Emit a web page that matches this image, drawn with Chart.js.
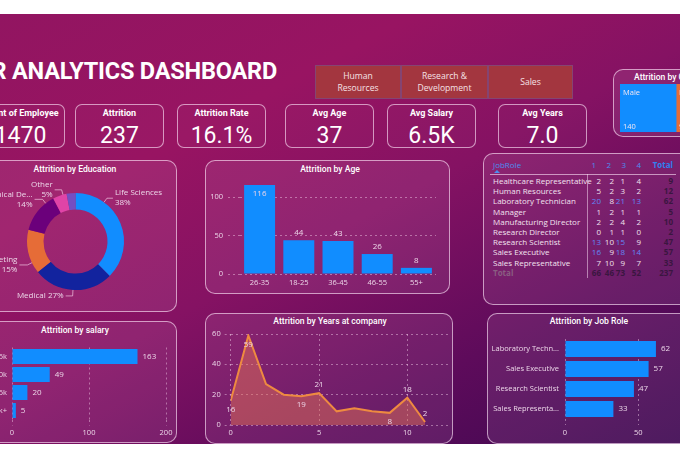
<!DOCTYPE html>
<html><head><meta charset="utf-8">
<script src="https://cdn.jsdelivr.net/npm/chart.js@4.4.1/dist/chart.umd.min.js"></script>
<style>
*{box-sizing:border-box}
html,body{margin:0;padding:0;width:680px;height:459px;overflow:hidden;background:#fff}
body{position:relative;font-family:"Open Sans",sans-serif}
#bg{position:absolute;left:0;top:14px;width:680px;height:430px;background:linear-gradient(152deg,#921561 0%,#981462 28%,#851263 50%,#5e0b5b 75%,#3c0850 100%)}
.panel{position:absolute;border:1px solid rgba(255,232,250,0.62);border-radius:10px;background:rgba(255,220,250,0.09)}
.card{position:absolute;border:1px solid rgba(255,232,250,0.62);border-radius:7px;background:rgba(255,255,255,0.02)}
.t{position:absolute;white-space:nowrap}
.ptitle{position:absolute;white-space:nowrap;color:#fff;font-family:Roboto,sans-serif;font-weight:500;font-size:8.6px;line-height:12px;transform:translate(-50%,-50%)}
canvas{position:absolute}
</style></head><body>
<div id="bg"></div>
<script>
// ---------------- data ----------------
const dashTitle = 'HR ANALYTICS DASHBOARD';
const kpiLabels = ['Count of Employee', 'Attrition', 'Attrition Rate', 'Avg Age', 'Avg Salary', 'Avg Years'];
const kpiValues = ['1470', '237', '16.1%', '37', '6.5K', '7.0'];
const departments = ['Human Resources', 'Research & Development', 'Sales'];
const genderLabels = ['Male', 'Female'];
const genderValues = [140, 97];
const eduLabels = ['Life Sciences', 'Medical', 'Marketing', 'Technical Degree', 'Other', 'Human Resources'];
const eduValues = [89, 63, 35, 32, 11, 7];
const ageGroups = ['26-35', '18-25', '36-45', '46-55', '55+'];
const ageValues = [116, 44, 43, 26, 8];
const salaryBands = ['Up to 5k', '5k-10k', '10k-15k', '15k+'];
const salaryValues = [163, 49, 20, 5];
const yearsAtCompany = [0, 1, 2, 3, 4, 5, 6, 7, 8, 9, 10, 11];
const yearsAttrition = [16, 59, 27, 20, 19, 21, 9, 11, 9, 8, 18, 2];
const topRoles = ['Laboratory Technician', 'Sales Executive', 'Research Scientist', 'Sales Representative'];
const topRoleValues = [62, 57, 47, 33];
const matrixRoles = ['Healthcare Representative', 'Human Resources', 'Laboratory Technician', 'Manager', 'Manufacturing Director', 'Research Director', 'Research Scientist', 'Sales Executive', 'Sales Representative'];
const jobLevels = ['1', '2', '3', '4'];
const level1 = [2, 5, 20, 1, 2, 0, 13, 16, 7];
const level2 = [2, 2, 8, 2, 2, 1, 10, 9, 10];
const level3 = [1, 3, 21, 1, 4, 1, 15, 18, 9];
const level4 = [4, 2, 13, 1, 2, 0, 9, 14, 7];

// ---------------- helpers ----------------
function mk(tag, css, text, cls) {
  const e = document.createElement(tag);
  if (cls) e.className = cls;
  e.style.cssText = css;
  if (text != null) e.textContent = text;
  document.body.appendChild(e);
  return e;
}
function cv(l, t, w, h) {
  const c = document.createElement('canvas');
  c.width = w; c.height = h;
  c.style.cssText = `left:${l}px;top:${t}px;width:${w}px;height:${h}px`;
  document.body.appendChild(c);
  return c;
}
function panel(l, t, w, h) { mk('div', `left:${l}px;top:${t}px;width:${w}px;height:${h}px`, null, 'panel'); }
function ptitle(x, y, s) { mk('div', `left:${x}px;top:${y}px`, s, 'ptitle'); }

const txtCol = '#ecd6e8';
const gridCol = 'rgba(255,225,245,0.42)';
Chart.defaults.font.family = '"Open Sans", sans-serif';
Chart.defaults.font.size = 7.5;
Chart.defaults.color = txtCol;
Chart.defaults.animation = false;
Chart.defaults.responsive = false;
Chart.defaults.devicePixelRatio = 1;
Chart.defaults.plugins.legend.display = false;
Chart.defaults.plugins.tooltip.enabled = false;

// ---------------- header ----------------
mk('div', `right:403px;top:59px;color:#fff;font-family:Roboto,sans-serif;font-weight:700;font-size:23.5px;line-height:24px;letter-spacing:-0.2px`, dashTitle, 't');

const slX = [315, 401, 488], slW = [86, 87, 85];
departments.forEach((d, i) => {
  const e = mk('div', `position:absolute;left:${slX[i]}px;top:65px;width:${slW[i]}px;height:34px;background:#a3363f;border:1px solid rgba(130,70,120,0.9);display:flex;align-items:center;justify-content:center;text-align:center;padding:0 13px;color:#f6e2e6;font-size:8.6px;line-height:12.5px`, d);
});

const cardX = [-24, 75, 177, 285, 387, 498], cardW = 89;
kpiLabels.forEach((lab, i) => {
  mk('div', `left:${cardX[i]}px;top:104px;width:${cardW}px;height:44px`, null, 'card');
  mk('div', `left:${cardX[i]}px;top:107px;width:${cardW}px;height:12px;line-height:12px;text-align:center;color:#fff;font-family:Roboto,sans-serif;font-weight:700;font-size:9px`, lab, 't');
  mk('div', `left:${cardX[i]}px;top:122px;width:${cardW}px;height:28px;line-height:28px;text-align:center;color:#fff;font-family:Roboto,sans-serif;font-weight:400;font-size:23px`, kpiValues[i], 't');
});

// ---------------- gender (treemap-like stacked bar) ----------------
panel(613, 69, 120, 68);
mk('div', `left:634px;top:71px;line-height:12px;color:#fff;font-family:Roboto,sans-serif;font-weight:500;font-size:8.6px`, 'Attrition by Gender', 't');
const genderLabelPlugin = {
  id: 'genderLabels',
  afterDatasetsDraw(chart) {
    const ctx = chart.ctx; ctx.save();
    ctx.font = '7.5px "Open Sans"'; ctx.fillStyle = '#f2e6f2'; ctx.textAlign = 'left';
    chart.data.datasets.forEach((ds, di) => {
      const el = chart.getDatasetMeta(di).data[0];
      const left = Math.min(el.x, el.base), top = el.y - el.height / 2, bot = el.y + el.height / 2;
      ctx.textBaseline = 'middle';
      ctx.fillText(ds.label, left + 3, top + 9);
      ctx.fillText(String(ds.data[0]), left + 3, bot - 5);
    });
    ctx.restore();
  }
};
new Chart(cv(613, 69, 120, 68), {
  type: 'bar',
  data: { labels: ['Gender'], datasets: genderLabels.map((g, i) => ({ label: g, data: [genderValues[i]], backgroundColor: i === 0 ? '#118DFF' : '#E66C37', barPercentage: 1, categoryPercentage: 1 })) },
  options: {
    indexAxis: 'y',
    layout: { padding: { left: 7, right: 18, top: 15, bottom: 5 } },
    scales: { x: { stacked: true, display: false, min: 0, max: genderValues[0] + genderValues[1] }, y: { stacked: true, display: false } }
  },
  plugins: [genderLabelPlugin]
});

// ---------------- education donut ----------------
panel(-27, 160, 204, 152);
ptitle(75, 169, 'Attrition by Education');
const donutLabelPlugin = {
  id: 'donutLabels',
  afterDatasetsDraw(chart, args, o) {
    const meta = chart.getDatasetMeta(0);
    const vals = chart.data.datasets[0].data;
    const total = vals.reduce((a, b) => a + b, 0);
    const ctx = chart.ctx; ctx.save();
    ctx.font = '8px "Open Sans"'; ctx.fillStyle = txtCol;
    ctx.strokeStyle = 'rgba(255,225,245,0.75)'; ctx.lineWidth = 0.8;
    o.items.forEach(it => {
      const arc = meta.data[it.i];
      const a = (it.angle - 90) * Math.PI / 180;
      const r = arc.outerRadius;
      const x0 = arc.x + Math.cos(a) * r, y0 = arc.y + Math.sin(a) * r;
      const x1 = arc.x + Math.cos(a) * (r + it.out), y1 = arc.y + Math.sin(a) * (r + it.out);
      const x2 = x1 + it.dx;
      ctx.beginPath(); ctx.moveTo(x0, y0); ctx.lineTo(x1, y1); ctx.lineTo(x2, y1); ctx.stroke();
      let name = chart.data.labels[it.i];
      if (name.length > 14) name = name.slice(0, 12) + '...';
      const pct = Math.round(vals[it.i] / total * 100) + '%';
      const lines = it.single ? [name + ' ' + pct] : [name, pct];
      ctx.textAlign = it.dx > 0 ? 'left' : 'right';
      ctx.textBaseline = 'middle';
      const tx = x2 + (it.dx > 0 ? 2 : -2);
      lines.forEach((s, k) => ctx.fillText(s, tx, y1 + (k - (lines.length - 1) / 2) * 10));
    });
    ctx.restore();
  }
};
new Chart(cv(-27, 160, 204, 152), {
  type: 'doughnut',
  data: { labels: eduLabels, datasets: [{ data: eduValues, backgroundColor: ['#118DFF', '#12239E', '#E66C37', '#6B007B', '#E044A7', '#744EC2'], borderWidth: 0 }] },
  options: {
    cutout: '66%',
    layout: { padding: { left: 54, right: 53, top: 33, bottom: 22 } },
    plugins: { donutLabels: { items: [
      { i: 0, angle: 36, out: 5, dx: 6 },
      { i: 1, angle: 183, out: 6, dx: -7, single: true },
      { i: 2, angle: 244, out: 5, dx: -8 },
      { i: 3, angle: 322, out: 5, dx: -8 },
      { i: 4, angle: 345, out: 5, dx: -7 }
    ] } }
  },
  plugins: [donutLabelPlugin]
});

// ---------------- bar value labels plugin ----------------
const barLabelPlugin = {
  id: 'barLabels',
  afterDatasetsDraw(chart, args, o) {
    const ctx = chart.ctx; ctx.save();
    ctx.font = (o.size || 8) + 'px "Open Sans"'; ctx.fillStyle = txtCol; ctx.textBaseline = 'middle';
    const horiz = chart.options.indexAxis === 'y';
    const data = chart.data.datasets[0].data;
    chart.getDatasetMeta(0).data.forEach((el, i) => {
      const v = String(data[i]);
      if (horiz) { ctx.textAlign = 'left'; ctx.fillText(v, el.x + o.gap, el.y); }
      else {
        ctx.textAlign = 'center';
        const inside = el.y - chart.chartArea.top < 14;
        ctx.fillText(v, el.x, inside ? el.y + 9 : el.y - o.gap);
      }
    });
    ctx.restore();
  }
};
const keepMultiples = step => s => { s.ticks = s.ticks.filter(t => Math.abs(t.value % step) < 1e-6); };

// ---------------- age ----------------
panel(205, 160, 245, 134);
ptitle(330, 169, 'Attrition by Age');
new Chart(cv(205, 160, 245, 134), {
  type: 'bar',
  data: { labels: ageGroups, datasets: [{ data: ageValues, backgroundColor: '#118DFF', barPercentage: 0.79, categoryPercentage: 1 }] },
  options: {
    layout: { padding: { left: 0, right: 14, top: 18, bottom: 0 } },
    scales: {
      x: { grid: { display: false, drawTicks: false }, border: { display: false }, ticks: { padding: 4 }, afterFit: s => { s.height = 20; } },
      y: { min: 0, max: 125, ticks: { stepSize: 50, padding: 5 }, afterBuildTicks: keepMultiples(50),
           grid: { color: gridCol, tickLength: 12, tickBorderDash: [2, 3] }, border: { display: false, dash: [2, 3] },
           afterFit: s => { s.width = 35; } }
    },
    plugins: { barLabels: { gap: 7, size: 8 } }
  },
  plugins: [barLabelPlugin]
});

// ---------------- job role matrix ----------------
panel(483, 153, 240, 152);
const colRight = [601, 614, 625, 641, 673], hdrRight = [596, 611, 626, 641, 673];
const rowY0 = 181, rowH = 10.2;
function cell(txt, right, cy, css) {
  mk('div', `right:${680 - right}px;top:${cy - 6}px;height:12px;line-height:12px;font-size:8px;${css}`, txt, 't');
}
mk('div', `left:493px;top:159px;height:12px;line-height:12px;font-size:8px;color:#4b8ef0`, 'JobRole', 't');
mk('div', `left:494px;top:170px;width:0;height:0;border-left:3px solid transparent;border-right:3px solid transparent;border-bottom:3px solid #4b8ef0`, null, 't');
jobLevels.forEach((l, j) => cell(l, hdrRight[j], 165, 'color:#4b8ef0'));
cell('Total', hdrRight[4], 165, 'color:#2f80f0;font-weight:700');
mk('div', `left:490px;top:174px;width:186px;height:1px;background:rgba(255,230,250,0.6)`, null, 't');
mk('div', `left:587px;top:174px;width:1px;height:104px;background:rgba(255,230,250,0.5)`, null, 't');
const levels = [level1, level2, level3, level4];
matrixRoles.forEach((r, i) => {
  const cy = rowY0 + i * rowH;
  mk('div', `left:493px;top:${cy - 6}px;height:12px;line-height:12px;font-size:8px;color:#f2e2ef`, r, 't');
  let tot = 0;
  levels.forEach((lv, j) => { tot += lv[i]; cell(String(lv[i]), colRight[j], cy, `color:${lv[i] >= 13 ? '#6287f5' : '#f0e0ec'}`); });
  cell(String(tot), colRight[4], cy, 'color:#3a1640;font-weight:700');
});
{
  const cy = rowY0 + matrixRoles.length * rowH;
  mk('div', `left:493px;top:${cy - 6}px;height:12px;line-height:12px;font-size:8px;color:#8a5e82;font-weight:700`, 'Total', 't');
  let g = 0;
  levels.forEach((lv, j) => { const s = lv.reduce((a, b) => a + b, 0); g += s; cell(String(s), colRight[j], cy, 'color:#3a1640;font-weight:700'); });
  cell(String(g), colRight[4], cy, 'color:#3a1640;font-weight:700');
}

// ---------------- salary ----------------
panel(-27, 321, 204, 122);
ptitle(75, 330, 'Attrition by salary');
new Chart(cv(-27, 321, 204, 122), {
  type: 'bar',
  data: { labels: salaryBands, datasets: [{ data: salaryValues, backgroundColor: '#118DFF', barPercentage: 0.83, categoryPercentage: 1 }] },
  options: {
    indexAxis: 'y',
    layout: { padding: { left: 0, right: 11, top: 26.5, bottom: 0 } },
    scales: {
      x: { min: 0, max: 200, ticks: { stepSize: 100, padding: 3 }, afterBuildTicks: keepMultiples(100),
           grid: { color: gridCol, tickLength: 6, tickBorderDash: [2, 3] }, border: { display: false, dash: [2, 3] },
           afterFit: s => { s.height = 23.5; } },
      y: { grid: { display: false, drawTicks: false }, border: { display: false }, ticks: { padding: 5 }, afterFit: s => { s.width = 39; } }
    },
    plugins: { barLabels: { gap: 5, size: 8 } }
  },
  plugins: [barLabelPlugin]
});

// ---------------- years at company ----------------
panel(205, 313, 248, 131);
ptitle(330, 321, 'Attrition by Years at company');
const lineLabelPlugin = {
  id: 'lineLabels',
  afterDatasetsDraw(chart, args, o) {
    const ctx = chart.ctx; ctx.save();
    ctx.font = '8px "Open Sans"'; ctx.fillStyle = txtCol; ctx.textAlign = 'center'; ctx.textBaseline = 'middle';
    const pts = chart.getDatasetMeta(0).data;
    const data = chart.data.datasets[0].data;
    o.items.forEach(it => {
      const p = pts[it.i];
      ctx.fillText(String(data[it.i].y), p.x, p.y + (it.pos === 'above' ? -8 : 9));
    });
    ctx.restore();
  }
};
new Chart(cv(205, 313, 248, 131), {
  type: 'line',
  data: { datasets: [{ data: yearsAtCompany.map((x, i) => ({ x, y: yearsAttrition[i] })), borderColor: '#ee8a40', borderWidth: 2, fill: 'origin', backgroundColor: 'rgba(236,120,84,0.45)', pointRadius: 0, tension: 0 }] },
  options: {
    layout: { padding: { left: 0, right: 5, top: 21, bottom: 0 } },
    scales: {
      x: { type: 'linear', min: 0, max: 12.3, ticks: { stepSize: 5, padding: 3 }, afterBuildTicks: keepMultiples(5),
           grid: { color: gridCol, drawTicks: false }, border: { display: false, dash: [2, 3] }, afterFit: s => { s.height = 19; } },
      y: { min: 0, max: 60, ticks: { stepSize: 20, padding: 4 }, afterBuildTicks: keepMultiples(20),
           grid: { color: gridCol, tickLength: 6, tickBorderDash: [2, 3] }, border: { display: false, dash: [2, 3] },
           afterFit: s => { s.width = 25.7; } }
    },
    plugins: { lineLabels: { items: [
      { i: 0, pos: 'below' }, { i: 1, pos: 'below' }, { i: 4, pos: 'below' }, { i: 5, pos: 'above' },
      { i: 9, pos: 'below' }, { i: 10, pos: 'above' }, { i: 11, pos: 'above' }
    ] } }
  },
  plugins: [lineLabelPlugin]
});

// ---------------- job role bars ----------------
panel(487, 313, 236, 131);
ptitle(589, 321, 'Attrition by Job Role');
new Chart(cv(487, 313, 193, 131), {
  type: 'bar',
  data: { labels: topRoles, datasets: [{ data: topRoleValues, backgroundColor: '#118DFF', barPercentage: 0.8, categoryPercentage: 1 }] },
  options: {
    indexAxis: 'y',
    layout: { padding: { left: 0, right: 5, top: 26, bottom: 0 } },
    scales: {
      x: { min: 0, max: 75, ticks: { stepSize: 50, padding: 3 }, afterBuildTicks: keepMultiples(50),
           grid: { color: gridCol, tickLength: 6, tickBorderDash: [2, 3] }, border: { display: false, dash: [2, 3] },
           afterFit: s => { s.height = 25; } },
      y: { grid: { display: false, drawTicks: false }, border: { display: false },
           ticks: { padding: 6, callback: function (v) { const s = this.getLabelForValue(v); return s.length > 18 ? s.slice(0, 16) + '...' : s; } },
           afterFit: s => { s.width = 78; } }
    },
    plugins: { barLabels: { gap: 5, size: 8 } }
  },
  plugins: [barLabelPlugin]
});
</script>
</body></html>
